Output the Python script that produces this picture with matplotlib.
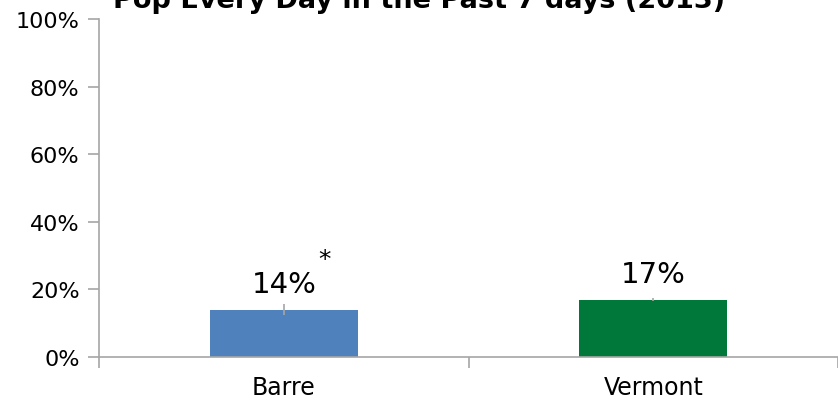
import matplotlib.pyplot as plt
import numpy as np

categories = ["Barre", "Vermont"]
values = [14, 17]
errors = [1.6, 0.5]
labels = ["14%", "17%"]
colors = ["#4f81bd", "#00783a"]
title = "Pop Every Day in the Past 7 days (2013)"

plt.rcParams['font.family'] = ['DejaVu Sans']

fig = plt.figure(figsize=(8.38, 4.06), dpi=100)
ax = fig.add_axes([99 / 838, 48 / 406, 739 / 838, 338 / 406])

x = np.arange(len(categories))
ax.bar(x, values, width=0.4, color=colors, zorder=2)
ax.errorbar(x, values, yerr=errors, fmt='none', ecolor='#a6a6a6',
            elinewidth=1.2, capsize=0, zorder=3)

for xi, v, lab in zip(x, values, labels):
    ax.text(xi, v + 5.3, lab, ha='center', va='baseline', fontsize=21)
# significance marker next to the Barre label
ax.text(0.11, 29, "*", ha='center', va='center', fontsize=18)

ax.set_xlim(-0.5, 1.5)
ax.set_ylim(0, 100)
ax.set_yticks(range(0, 101, 20))
ax.set_yticklabels([f"{t}%" for t in range(0, 101, 20)], fontsize=16)
ax.set_xticks(x)
ax.set_xticklabels(categories, fontsize=17)
ax.set_xticks([-0.5, 0.5, 1.5], minor=True)
ax.tick_params(axis='x', which='major', length=0, pad=13)
ax.tick_params(axis='x', which='minor', length=8, color='#a6a6a6', width=1.2)
ax.tick_params(axis='y', length=8, color='#a6a6a6', width=1.2, pad=6)

for side in ['top', 'right']:
    ax.spines[side].set_visible(False)
for side in ['left', 'bottom']:
    ax.spines[side].set_color('#a6a6a6')
    ax.spines[side].set_linewidth(1.2)

fig.text(0.5, 1 - 8 / 406, title, ha='center', va='baseline',
         fontsize=19.5, fontweight='bold')

fig.savefig("out.png", dpi=100)
